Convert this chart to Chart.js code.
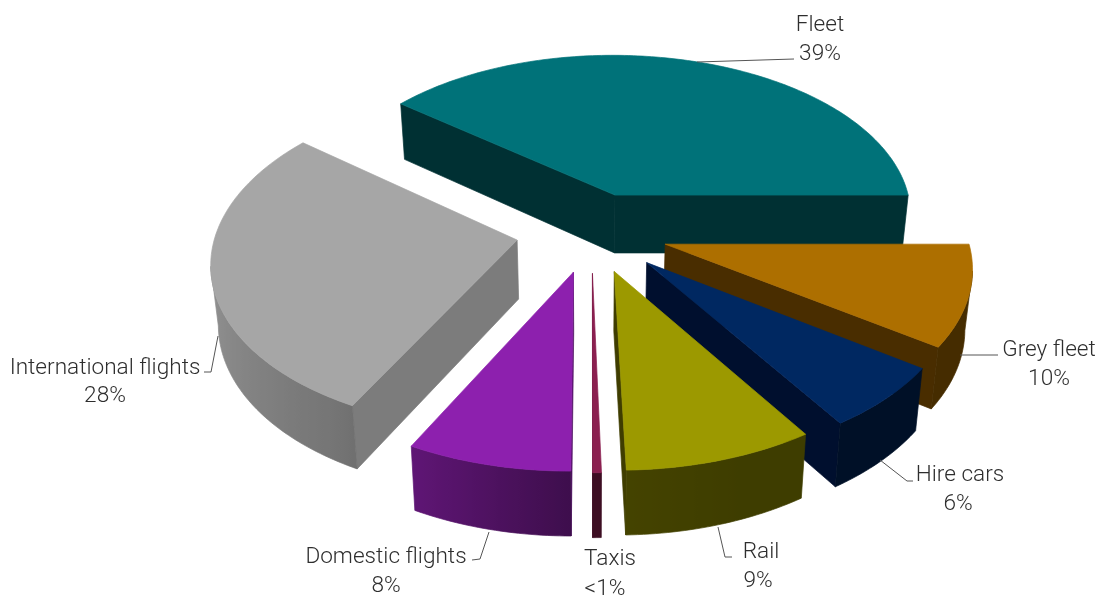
<!DOCTYPE html>
<html>
<head>
<meta charset="utf-8">
<style>html,body{margin:0;padding:0;background:#fff}#w{position:relative;width:1099px;height:595px}</style>
<script src="https://cdn.jsdelivr.net/npm/chart.js@4/dist/chart.umd.js"></script>
</head>
<body>
<div id="w"><canvas id="c" width="1099" height="595"></canvas></div>
<script>
// ---- data ----
const categories = ['Fleet','Grey fleet','Hire cars','Rail','Taxis','Domestic flights','International flights'];
const shares     = [39.2,9.7,6.1,8.8,0.4,7.6,28.2];
const shareLabels= ['39%','10%','6%','9%','<1%','8%','28%'];

// ---- style ----
const topColors  = ['#007279','#AD6F00','#002861','#9C9900','#8B2050','#8D20AE','#A6A6A6'];
const wallColors = ['#003033','#492D00','#000F2E','#3F3D00','#4A0F28','#4F1163','#7C7C7C'];
// brightness of the round outer wall by direction: [angle in degrees, factor]
const wallShade  = [[0,.40],[70,.40],[90,.44],[120,.70],[180,.93],[230,.93]];
const explode = [73,77,78,75,75,75,76];
const pieRadius = 303, startRotation = -51.12;
const view = {c:.55, k:.000396, shiftY:-15.8, raiseY:8.64, depth:59, taper:.98};
// label layout: text centre x for each line, middle y for each line, leader polyline
const labelLayout = [
  {x:[820,820],  y:[25,54],   lead:[[697,62],[794,59]]},
  {x:[1049,1049],y:[350,379], lead:[[960,355],[998,355]]},
  {x:[960,958],  y:[475,504], lead:[[880,460],[907,481],[913,481]]},
  {x:[761,758],  y:[552,581], lead:[[718,527],[725,557],[732,557]]},
  {x:[610,605],  y:[559,589], lead:[]},
  {x:[386,386],  y:[557,586], lead:[[489,532],[480,559],[472,560]]},
  {x:[105,105],  y:[368,396], lead:[[218,336],[211,372],[204,372]]}
];
const labelFont = '300 22.6px Roboto, "Liberation Sans", sans-serif';
const labelColor = '#2e2e2e';

function project(el, px, py, bottom){
  const Y = py + view.shiftY, w = 1 - view.k*Y, s = 1/w;
  const x0 = el.x, y0 = el.y + view.raiseY;
  const sy = y0 + view.c*Y*s;
  if(!bottom) return [x0 + px*s, sy];
  return [x0 + px*view.taper*s, sy + view.depth*(1 + .6*(s-1))];
}
function shadeFor(deg){
  let d = deg; while(d<0) d+=360; while(d>=360) d-=360;
  if(d>230) d = d<300 ? 230 : 0;
  for(let i=1;i<wallShade.length;i++){
    const a=wallShade[i-1], b=wallShade[i];
    if(d<=b[0]) return a[1]+(b[1]-a[1])*(d-a[0])/(b[0]-a[0]);
  }
  return .4;
}
function scaleColor(hex,f){
  const n=parseInt(hex.slice(1),16);
  return `rgb(${Math.round((n>>16&255)*f)},${Math.round((n>>8&255)*f)},${Math.round((n&255)*f)})`;
}
function poly(ctx,pts,col){
  ctx.beginPath();pts.forEach((p,i)=>i?ctx.lineTo(p[0],p[1]):ctx.moveTo(p[0],p[1]));ctx.closePath();
  ctx.fillStyle=col;ctx.strokeStyle=col;ctx.lineWidth=.7;ctx.lineJoin='round';ctx.fill();ctx.stroke();
}
// Each arc element is drawn as a solid wedge, from the angles and radius the library computed.
Chart.ArcElement.prototype.draw = function(ctx){
  const o=this.options, a0=this.startAngle, a1=this.endAngle, R=this.outerRadius, off=o.offset||0;
  const mid=(a0+a1)/2, ax=Math.cos(mid)*off, ay=Math.sin(mid)*off;
  const n=Math.max(2,Math.ceil((a1-a0)/(Math.PI/180)));
  const pts=[];
  for(let i=0;i<=n;i++){const t=a0+(a1-a0)*i/n;pts.push([ax+R*Math.cos(t),ay+R*Math.sin(t),t]);}
  const apexT=project(this,ax,ay,false), apexB=project(this,ax,ay,true);
  const T=pts.map(p=>project(this,p[0],p[1],false)), B=pts.map(p=>project(this,p[0],p[1],true));
  if(T[0][0]<apexT[0]) poly(ctx,[apexT,T[0],B[0],apexB],o.borderColor);
  if(apexT[0]<T[n][0]) poly(ctx,[T[n],apexT,apexB,B[n]],o.borderColor);
  // the part of the round wall that faces the viewer, one shape with a side-to-side gradient
  const vis=[];
  for(let i=0;i<n;i++) if(T[i+1][0]<T[i][0]){ if(!vis.length) vis.push(i); vis.push(i+1); }
  if(vis.length>1){
    const xR=T[vis[0]][0], xL=T[vis[vis.length-1]][0];
    const g=ctx.createLinearGradient(xR,0,xL,0);
    vis.forEach(i=>{
      const stop=Math.min(1,Math.max(0,(xR-T[i][0])/(xR-xL)));
      g.addColorStop(stop,scaleColor(o.backgroundColor,shadeFor(pts[i][2]*180/Math.PI)));
    });
    poly(ctx,vis.map(i=>T[i]).concat(vis.slice().reverse().map(i=>B[i])),g);
  }
  poly(ctx,[apexT].concat(T),o.backgroundColor);
};
const wedgeOrder={id:'wedgeOrder',beforeDatasetDraw(chart,args){
  const ctx=chart.ctx;
  const arcs=[...args.meta.data].sort((p,q)=>Math.sin((p.startAngle+p.endAngle)/2)-Math.sin((q.startAngle+q.endAngle)/2));
  arcs.forEach(a=>a.draw(ctx));
  return false;
}};
const callouts={id:'callouts',afterDraw(chart){
  const ctx=chart.ctx;ctx.save();
  ctx.strokeStyle='#555';ctx.lineWidth=1;
  labelLayout.forEach((l,i)=>{
    if(l.lead.length){ctx.beginPath();l.lead.forEach((p,j)=>j?ctx.lineTo(p[0],p[1]):ctx.moveTo(p[0],p[1]));ctx.stroke();}
    ctx.font=labelFont;ctx.fillStyle=labelColor;ctx.textAlign='center';ctx.textBaseline='middle';
    ctx.fillText(categories[i],l.x[0],l.y[0]);
    ctx.fillText(shareLabels[i],l.x[1],l.y[1]);
  });
  ctx.restore();
}};
new Chart(document.getElementById('c'),{
  type:'pie',
  data:{labels:categories,datasets:[{data:shares,backgroundColor:topColors,borderColor:wallColors,borderWidth:0,offset:explode}]},
  options:{responsive:false,animation:false,rotation:startRotation,radius:pieRadius,
    layout:{padding:{left:84,bottom:132}},
    plugins:{legend:{display:false},tooltip:{enabled:false}}},
  plugins:[wedgeOrder,callouts]
});
</script>
</body>
</html>
